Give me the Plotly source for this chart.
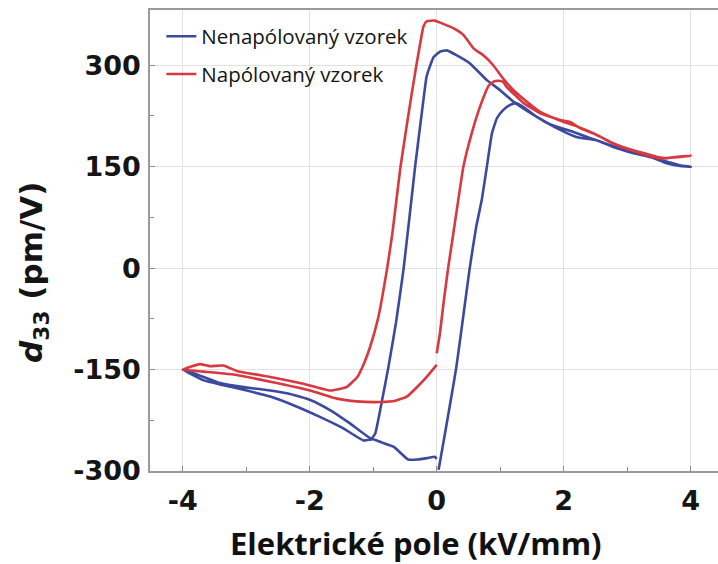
import plotly.graph_objects as go

# ---- data ----
# Nenapólovaný vzorek (unpoled sample): E field (kV/mm), d33 (pm/V)
unpoled_E = [0.03, 0.13, 0.22, 0.31, 0.42, 0.52, 0.62, 0.71, 0.79, 0.87, 0.95, 1.05, 1.15, 1.25,
             1.40, 1.57, 1.89, 2.20, 2.52, 2.78, 3.10, 3.41, 3.62, 3.83, 4.00,
             3.83, 3.60, 3.30, 3.00, 2.70, 2.40, 2.10, 1.80, 1.50, 1.21, 1.00, 0.79, 0.52, 0.31,
             0.16, 0.05, -0.05, -0.12, -0.16, -0.21, -0.34, -0.52, -0.64, -0.76, -0.88, -0.97, -1.03,
             -1.36, -1.68, -1.99, -2.31, -2.62, -3.04, -3.41, -3.67, -4.00,
             -3.67, -3.36, -2.99, -2.62, -2.20, -1.84, -1.47, -1.15, -1.00, -0.86, -0.68, -0.55,
             -0.45, -0.30, -0.15, -0.03, 0.00]
unpoled_d33 = [-298, -245, -196, -146, -70, 0, 60, 101, 150, 199, 222, 234, 241, 244,
               236, 224, 207, 194, 189, 179, 170, 163, 155, 151, 150,
               152, 158, 166, 173, 183, 193, 203, 212, 228, 246, 263, 278, 303, 315,
               322, 320, 312, 295, 283, 248, 150, 0, -80, -146, -205, -245, -252,
               -230, -210, -195, -186, -181, -176, -170, -161, -150,
               -166, -173, -181, -190, -205, -220, -237, -255, -253, -258, -264, -275,
               -283, -283, -281, -279, -282]

# Napólovaný vzorek (poled sample)
poled_E = [0.00, 0.05, 0.11, 0.18, 0.26, 0.34, 0.42, 0.55, 0.65, 0.76, 0.82, 0.90, 0.97, 1.05,
           1.10, 1.37, 1.63, 1.94, 2.10, 2.26, 2.52, 2.78, 3.05, 3.31, 3.57, 3.83, 4.00,
           3.80, 3.55, 3.30, 3.00, 2.75, 2.50, 2.20, 1.95, 1.63, 1.42, 1.21, 1.05, 0.89, 0.73,
           0.58, 0.42, 0.26, 0.08, -0.03, -0.16, -0.21, -0.26, -0.32, -0.41, -0.57, -0.70, -0.78,
           -0.92, -1.05, -1.15, -1.25, -1.42, -1.68, -2.10, -2.62, -3.15, -3.36, -3.57, -3.73, -4.00,
           -3.67, -3.15, -2.62, -1.99, -1.57, -1.26, -0.89, -0.65, -0.47, -0.30, -0.15, 0.00]
poled_d33 = [-126, -97, -50, 0, 50, 101, 150, 199, 230, 258, 270, 276, 277, 275,
             268, 244, 229, 219, 216, 207, 197, 184, 175, 167, 162, 165, 166,
             164, 163, 169, 177, 186, 198, 210, 218, 231, 246, 263, 280, 300, 315,
             325, 345, 355, 362, 366, 365, 357, 332, 300, 248, 150, 50, 0,
             -73, -117, -142, -161, -176, -181, -171, -161, -152, -144, -145, -142, -150,
             -153, -158, -168, -181, -193, -197, -198, -196, -190, -175, -160, -143]

series_names = ["Nenapólovaný vzorek", "Napólovaný vzorek"]
series_colors = ["#3c4a9e", "#d8383f"]

x_tickvals = [-4, -2, 0, 2, 4]
y_tickvals = [-300, -150, 0, 150, 300]

fig = go.Figure()
fig.add_trace(go.Scatter(x=unpoled_E, y=unpoled_d33, mode="lines", name=series_names[0],
                         legendgroup="a", line=dict(color=series_colors[0], width=2.6, shape="spline", smoothing=0.4)))
fig.add_trace(go.Scatter(x=poled_E, y=poled_d33, mode="lines", name=series_names[1],
                         legendgroup="b", line=dict(color=series_colors[1], width=2.6, shape="spline", smoothing=0.4)))

tickfont = dict(family="DejaVu Sans", size=27, color="#151515", weight="bold")

fig.update_layout(
    width=718, height=564,
    margin=dict(l=150, r=0, t=10, b=93),
    paper_bgcolor="white", plot_bgcolor="white",
    showlegend=True,
    legend=dict(x=0.02, y=0.986, xanchor="left", yanchor="top", bgcolor="rgba(0,0,0,0)",
                font=dict(family="Open Sans", size=20.5, color="#141414"),
                tracegroupgap=8, itemwidth=30),
    xaxis=dict(range=[-4.515, 4.43], tickvals=x_tickvals, ticktext=[str(v) for v in x_tickvals],
               showgrid=True, gridcolor="#e2e2e2", gridwidth=1, zeroline=False,
               showline=True, linecolor="#9a9a9a", linewidth=1.5, mirror=True,
               ticks="inside", ticklen=5, tickcolor="#8a8a8a",
               minor=dict(tickvals=[-3, -1, 1, 3], ticks="inside", ticklen=4, tickcolor="#8a8a8a", showgrid=False),
               tickfont=tickfont, ticklabelstandoff=5),
    yaxis=dict(range=[-300, 381.7], tickvals=y_tickvals, ticktext=[str(v) for v in y_tickvals],
               showgrid=True, gridcolor="#e2e2e2", gridwidth=1, zeroline=False,
               showline=True, linecolor="#9a9a9a", linewidth=1.5,
               ticks="inside", ticklen=5, tickcolor="#8a8a8a",
               minor=dict(tickvals=[-225, -75, 75, 225], ticks="inside", ticklen=4, tickcolor="#8a8a8a", showgrid=False),
               tickfont=tickfont, ticklabelstandoff=2),
    annotations=[
        dict(text="Elektrické pole (kV/mm)", xref="paper", yref="paper", x=0.468, y=-0.156,
             xanchor="center", yanchor="middle", showarrow=False,
             font=dict(family="Open Sans", size=31, color="#111111", weight="bold")),
        dict(text="<i>d</i><sub>33</sub> (pm/V)", xref="paper", yref="paper", x=-0.204, y=0.43,
             xanchor="center", yanchor="middle", showarrow=False, textangle=-90,
             font=dict(family="DejaVu Sans", size=31, color="#151515", weight="bold")),
    ],
)

fig.write_html("out.html", config={"displayModeBar": False},
               post_script="document.body.style.margin='0';document.body.style.overflow='hidden';")
